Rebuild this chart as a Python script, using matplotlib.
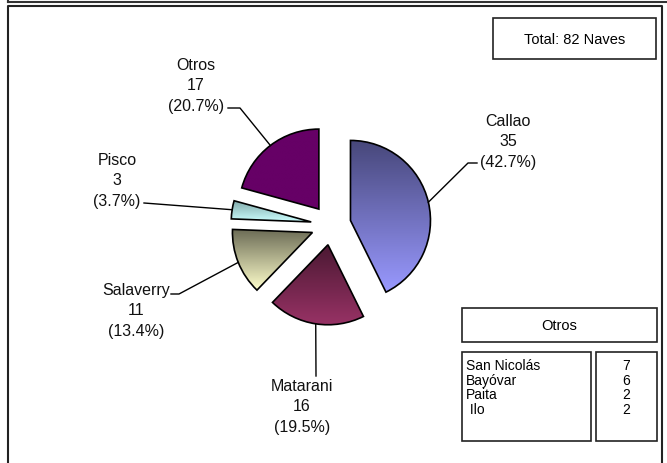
import numpy as np
import matplotlib
matplotlib.use("Agg")
import matplotlib.pyplot as plt
from matplotlib.colors import to_rgb
from matplotlib.patches import Rectangle

plt.rcParams['font.family'] = ['Liberation Sans', 'DejaVu Sans']

# datos
puertos = ['Callao', 'Matarani', 'Salaverry', 'Pisco', 'Otros']
naves = [35, 16, 11, 3, 17]
otros_puertos = ['San Nicolás', 'Bayóvar', 'Paita', ' Ilo']
otros_naves = [7, 6, 2, 2]

# colores: (arriba, abajo) del degradado
colores = [('#47477a', '#9999ff'),
           ('#4a1832', '#993366'),
           ('#6b6b55', '#ffffcc'),
           ('#7fa8a8', '#ccffff'),
           ('#660066', '#660066')]

# posicion de las etiquetas (pixeles) y quiebres de las lineas guia
etiq_pos = [(508, 142), (302, 407), (136, 311), (117, 181), (196, 86)]
etiq_quiebre = [[(468, 164), (477, 164)],
                [(316, 377)],
                [(179, 295), (171, 295)],
                [(144, 204)],
                [(240, 109), (228, 109)]]

W, H = 667, 464
R = 80
fig = plt.figure(figsize=(W / 100, H / 100), dpi=100)
ax = fig.add_axes([0, 0, 1, 1])
ax.axis('off')

total = sum(naves)
# eje y invertido: startangle=-90 y counterclock=True = sentido horario desde arriba
wedges, _ = ax.pie(naves, center=(331, 226), radius=R, explode=[0.25 * R] * 5,
                   startangle=-90, counterclock=True, frame=True,
                   wedgeprops=dict(edgecolor='black', linewidth=1.2, facecolor='none'))

for w, (c_top, c_bot) in zip(wedges, colores):
    v = w.get_path().vertices
    x0, y0 = v.min(axis=0)
    x1, y1 = v.max(axis=0)
    t = np.linspace(0, 1, 256)[:, None]
    grad = (1 - t) * np.array(to_rgb(c_top)) + t * np.array(to_rgb(c_bot))
    im = ax.imshow(grad[:, None, :], extent=(x0, x1, y1, y0), origin='upper',
                   aspect='auto', interpolation='bilinear', zorder=1)
    im.set_clip_path(w)
    w.set_zorder(3)

for w, p, n, pos, quiebre in zip(wedges, puertos, naves, etiq_pos, etiq_quiebre):
    ang = np.deg2rad((w.theta1 + w.theta2) / 2)
    cx, cy = w.center
    p0 = (cx + w.r * np.cos(ang), cy + w.r * np.sin(ang))
    pts = [p0] + quiebre
    ax.plot([q[0] for q in pts], [q[1] for q in pts], color='black', lw=1.0, zorder=4)
    ax.text(pos[0], pos[1], f"{p}\n{n}\n({n / total * 100:.1f}%)", ha='center', va='center',
            fontsize=11.5, linespacing=1.45, color='#111111', zorder=5)

# marcos
def caja(x0, y0, x1, y1, lw=1.2, color='#222222'):
    ax.add_patch(Rectangle((x0, y0), x1 - x0, y1 - y0, fill=False, edgecolor=color,
                           linewidth=lw, zorder=6))

ax.plot([8, W], [2.5, 2.5], color='#333333', lw=1.5, zorder=6)
ax.plot([8, 8], [0, 2.5], color='#333333', lw=1.5, zorder=6)
ax.plot([8, 8, 662, 662], [H + 2, 6.5, 6.5, H + 2], color='#222222', lw=1.5, zorder=6)

caja(493, 19, 656, 60)
ax.text(574.5, 40, f"Total: {total} Naves", ha='center', va='center', fontsize=10.5, zorder=7)

caja(462, 309, 657, 343)
ax.text(559.5, 326, 'Otros', ha='center', va='center', fontsize=10.5, zorder=7)

caja(462, 353, 591, 442)
caja(596, 353, 657, 442)
for i, (op, on) in enumerate(zip(otros_puertos, otros_naves)):
    yy = 366 + i * 14.7
    ax.text(466, yy, op, ha='left', va='center', fontsize=10, zorder=7)
    ax.text(626, yy, str(on), ha='center', va='center', fontsize=10, zorder=7)

ax.set_xlim(0, W)
ax.set_ylim(H, 0)
ax.set_aspect('auto')

fig.savefig('out.png', dpi=100, facecolor='white')
